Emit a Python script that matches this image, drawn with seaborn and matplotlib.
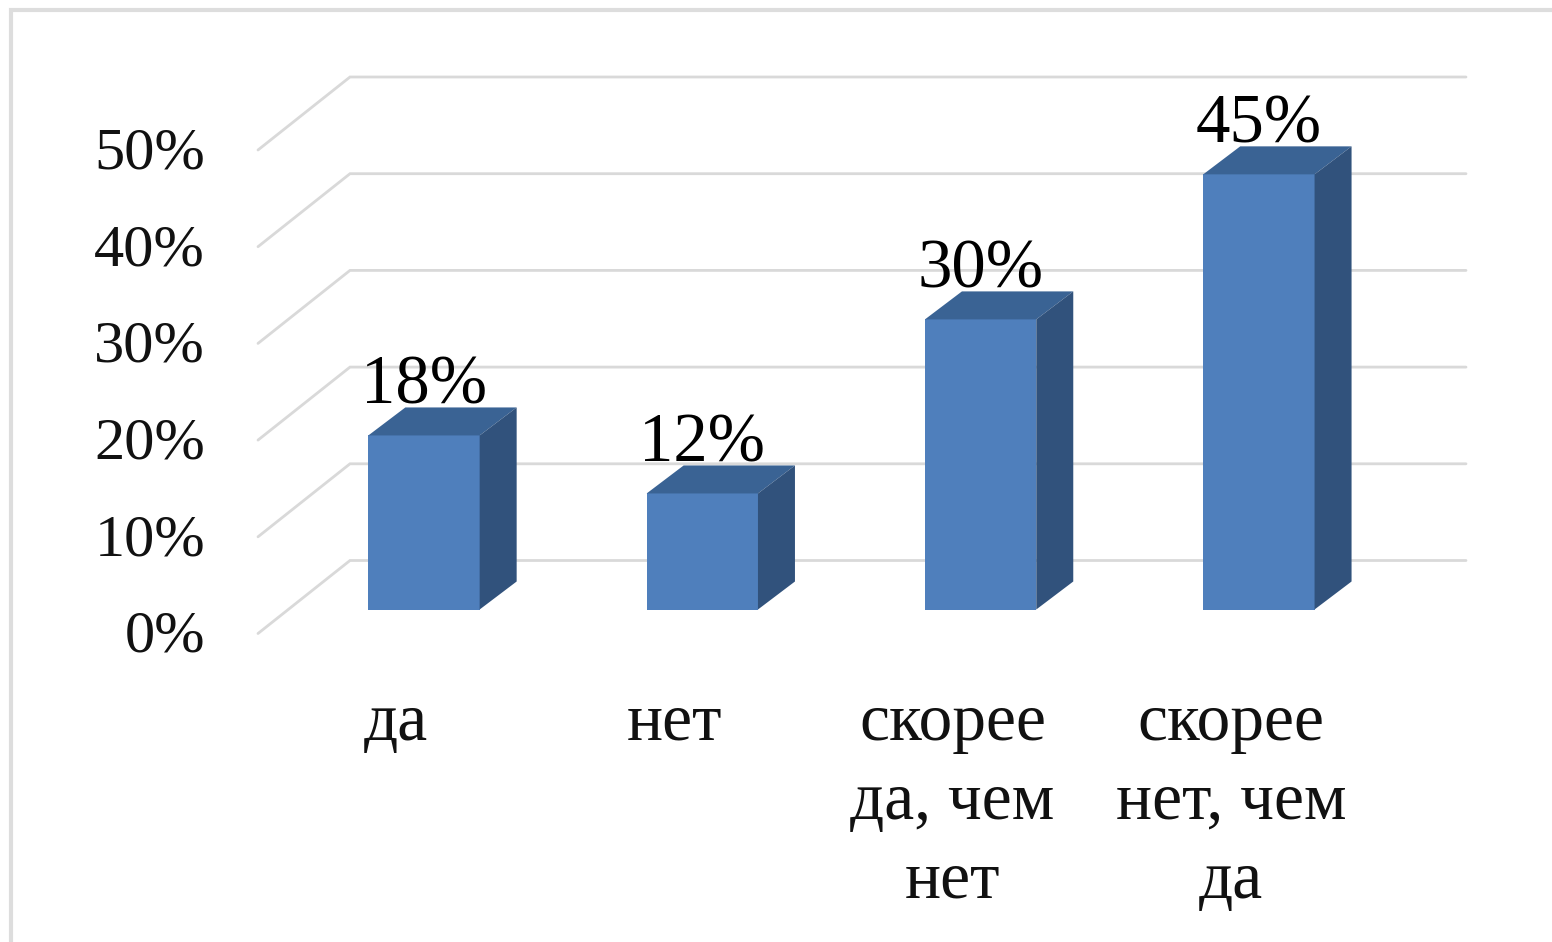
import matplotlib
matplotlib.use('Agg')
import matplotlib.pyplot as plt
import matplotlib.transforms as mtrans
from matplotlib.lines import Line2D
from matplotlib.patches import Polygon
import seaborn as sns

categories = ['да', 'нет', 'скорее\nда, чем\nнет', 'скорее\nнет, чем\nда']
values = [18, 12, 30, 45]
y_ticks = [0, 10, 20, 30, 40, 50]
y_tick_labels = ['0%', '10%', '20%', '30%', '40%', '50%']

W, H = 1552, 942
BAR_STEP = 278.3   # px between bars
PCT = 9.67         # px for one percent

sns.set_theme(style='white')
plt.rcParams['font.family'] = ['Liberation Serif', 'DejaVu Serif']

front = '#4F7FBC'
top = '#3A6394'
side = '#31527C'
grid = '#D9D9D9'

fig = plt.figure(figsize=(W / 100, H / 100), dpi=100, facecolor='white')
# axes box: x -0.5..3.5 around the bars, y 0..50 from the front edge of the floor
left = 424 - BAR_STEP / 2
ax = fig.add_axes([left / W, (H - 609.5) / H, 4 * BAR_STEP / W, 50 * PCT / H])
ax.patch.set_alpha(0)

sns.barplot(x=categories, y=values, color=front, saturation=1, width=0.4,
            linewidth=0, ax=ax, zorder=3)
ax.set_xlim(-0.5, 3.5)
ax.set_ylim(0, 50)
sns.despine(ax=ax, left=True, bottom=True)

# depth of the fake 3d, bars and walls
bar_dx = 37 / BAR_STEP
bar_dy = 28 / PCT
wall_x0 = (350 - 424) / BAR_STEP
wall_x1 = (1466 - 424) / BAR_STEP
wall_dy = 49 / PCT
floor_x = (258 - 424) / BAR_STEP
floor_dy = -24 / PCT

for t in y_ticks:
    ax.plot([floor_x, wall_x0, wall_x1], [t + floor_dy, t + wall_dy, t + wall_dy],
            color=grid, lw=2, clip_on=False, zorder=1, solid_joinstyle='miter')

for i, v in enumerate(values):
    x0, x1 = i - 0.2, i + 0.2
    ax.add_patch(Polygon([(x0, v), (x1, v), (x1 + bar_dx, v + bar_dy), (x0 + bar_dx, v + bar_dy)],
                         color=top, lw=0, clip_on=False, zorder=3))
    ax.add_patch(Polygon([(x1, 0), (x1 + bar_dx, bar_dy), (x1 + bar_dx, v + bar_dy), (x1, v)],
                         color=side, lw=0, clip_on=False, zorder=3))

ax.bar_label(ax.containers[0], fmt='%d%%', padding=12, fontsize=49.5, color='black', zorder=5)

ax.set_yticks(y_ticks, y_tick_labels)
ax.tick_params(axis='y', length=0, labelsize=43.5, colors='#111111', pad=0)
ax.tick_params(axis='x', length=0, labelsize=48.5, colors='#111111', pad=60)

# tick labels sit off the front plane in the picture
for lab in ax.get_yticklabels():
    lab.set_transform(lab.get_transform() + mtrans.ScaledTranslation(-(left - 205) / 100, -22 / 100, fig.dpi_scale_trans))
for lab in ax.get_xticklabels():
    lab.set_transform(lab.get_transform() + mtrans.ScaledTranslation(-28 / 100, 0, fig.dpi_scale_trans))
    lab.set_linespacing(1.38)

# screenshot border, top and left
fig.add_artist(Line2D([11 / W, 11 / W, 1], [0, (H - 10) / H, (H - 10) / H], color='#DDDDDD', lw=3,
                      solid_joinstyle='miter'))

fig.savefig('out.png', dpi=100)
